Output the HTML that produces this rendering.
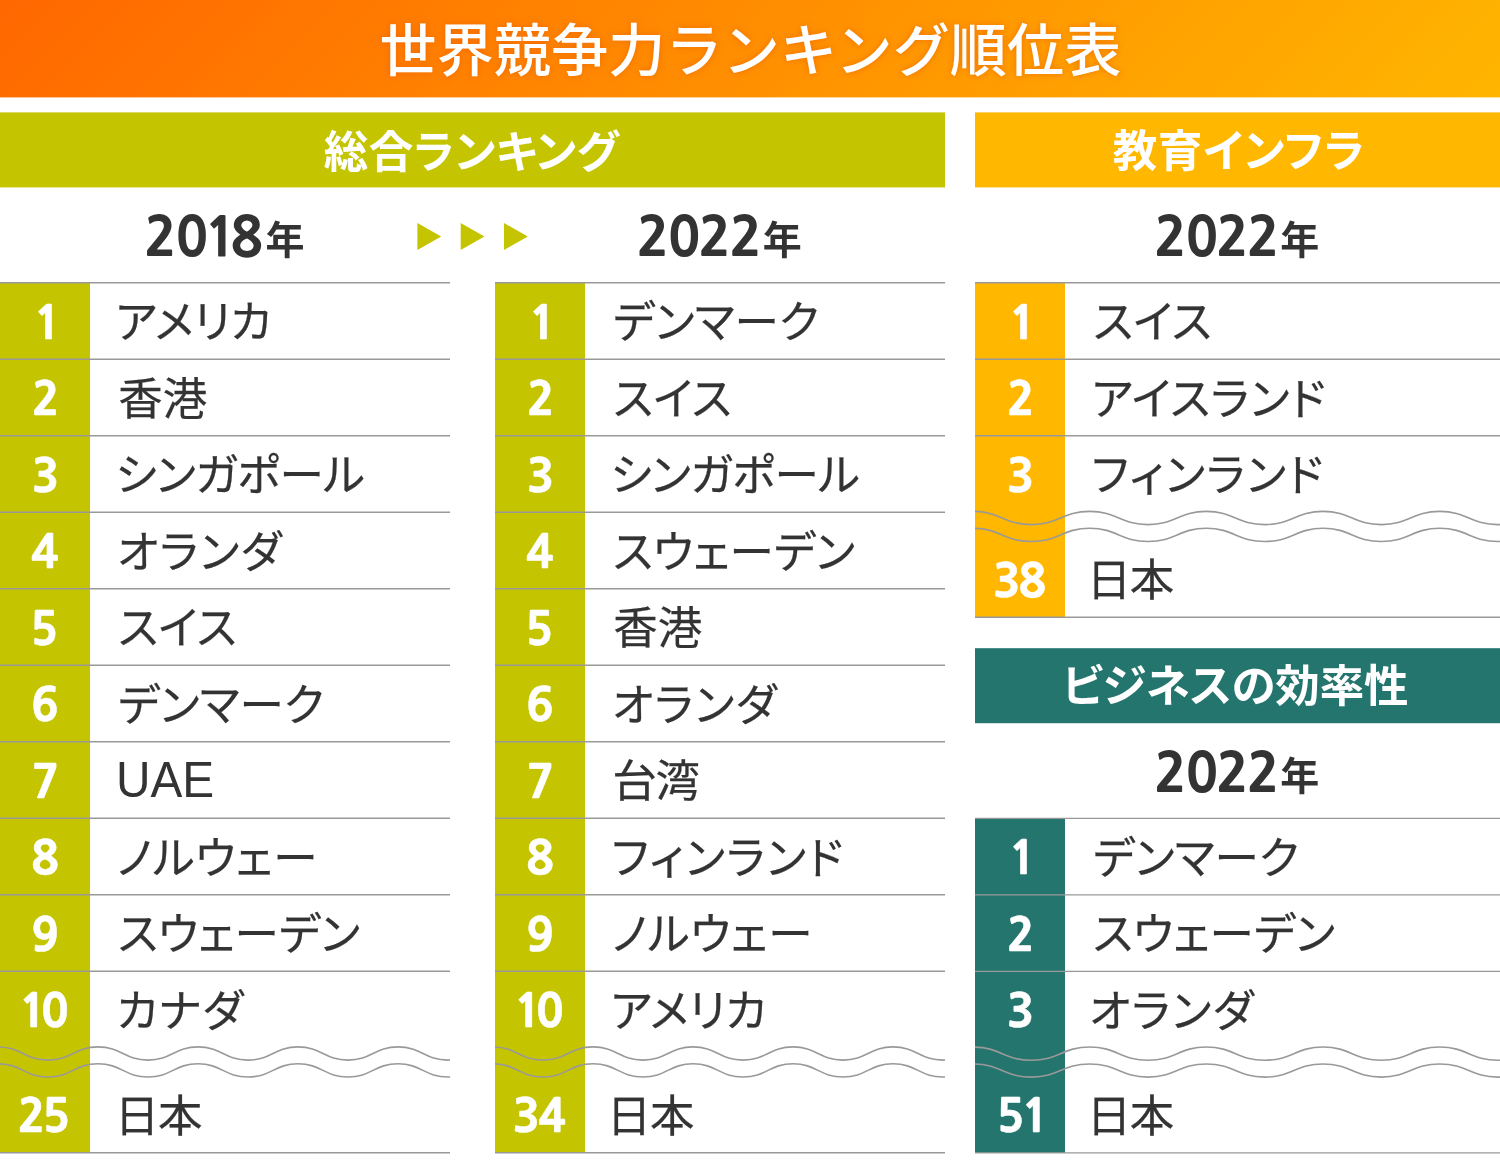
<!DOCTYPE html>
<html lang="ja"><head><meta charset="utf-8"><title>世界競争力ランキング順位表</title><style>
*{margin:0;padding:0;box-sizing:border-box}
html,body{width:1500px;height:1170px;background:#fff;overflow:hidden}
body{position:relative;font-family:"Liberation Sans","Noto Sans CJK JP",sans-serif;color:#333}
#g{position:absolute;left:0;top:0}
.ln{fill:none;stroke:#999;stroke-width:1.4}
.wv{fill:none;stroke:#999;stroke-width:1.6}
.hdr{position:absolute;left:0;top:0;width:1500px;height:97px;text-align:center;color:#fff;font-family:"Liberation Sans","Noto Sans CJK JP",sans-serif;font-weight:500;font-size:57px;line-height:97px;text-shadow:0 0 6px rgba(230,90,0,.6);white-space:nowrap}
.hdr span{position:relative;top:2.9px;left:.5px;letter-spacing:.2px}
.sec{position:absolute;height:75px;text-align:center;color:#fff;font-family:"Liberation Sans","Noto Sans CJK JP",sans-serif;font-weight:700;font-size:44.5px;font-feature-settings:"palt";line-height:75px;white-space:nowrap}
.sec span{position:relative;top:2.8px;left:-1px}
.yr{position:absolute;left:0;width:1500px;height:95px;line-height:95px;white-space:nowrap}
.yr .d{position:absolute;top:3.2px;font-family:"NanumGothic","Liberation Sans",sans-serif;font-weight:800;font-size:53.5px;letter-spacing:-1.5px}
.yr .d i{font-style:normal;margin-right:-5px;margin-left:-1.6px}
.yr .k{position:absolute;top:5.95px;font-family:"Liberation Sans","Noto Sans CJK JP",sans-serif;font-weight:700;font-size:39px}
.num{position:absolute;height:76.5px;line-height:76.5px;white-space:nowrap;color:#fff;font-family:"NanumGothic","Liberation Sans",sans-serif;font-weight:800;font-size:45.5px;-webkit-text-stroke:.5px #fff}
.nm{position:absolute;height:76.5px;line-height:76.5px;padding-top:2px;font-family:"Liberation Sans","Noto Sans CJK JP",sans-serif;font-size:44.5px;font-feature-settings:"palt";white-space:nowrap;color:#333;-webkit-text-stroke:.25px #333}
.nm .la{display:inline-block;font-size:50.2px;transform:scaleX(.952);transform-origin:0 50%;position:relative;top:-1.7px;-webkit-text-stroke:0}
</style></head><body>
<svg id="g" width="1500" height="1170" viewBox="0 0 1500 1170">
<defs><linearGradient id="hg" gradientUnits="userSpaceOnUse" x1="350.6" y1="-350.7" x2="1149.4" y2="448.1"><stop offset="0" stop-color="#ff6700"/><stop offset="1" stop-color="#ffb600"/></linearGradient></defs>
<rect x="0" y="0" width="1500" height="97.4" fill="url(#hg)"/>
<rect x="0" y="112.4" width="945" height="75" fill="#c5c400"/>
<rect x="975" y="112.4" width="525" height="75" fill="#ffb700"/>
<rect x="975" y="648.2" width="525" height="75" fill="#24756d"/>
<polygon points="417.4,223 441.2,236.5 417.4,250" fill="#c5c400"/>
<polygon points="460.7,223 484.5,236.5 460.7,250" fill="#c5c400"/>
<polygon points="504,223 527.8,236.5 504,250" fill="#c5c400"/>
<rect x="0" y="282.70" width="90" height="870.00" fill="#c5c400"/>
<path class="ln" d="M0,282.70h450M0,359.20h450M0,435.70h450M0,512.20h450M0,588.70h450M0,665.20h450M0,741.70h450M0,818.20h450M0,894.70h450M0,971.20h450M0,1152.70h450"/>
<svg x="0" y="1041.70" width="450" height="42" viewBox="0 1041.70 450 42"><path class="wv" d="M-2,1046.90C21.5,1046.90 24.5,1060.10 48.0,1060.10C71.5,1060.10 74.5,1046.90 98.0,1046.90C121.5,1046.90 124.5,1060.10 148.0,1060.10C171.5,1060.10 174.5,1046.90 198.0,1046.90C221.5,1046.90 224.5,1060.10 248.0,1060.10C271.5,1060.10 274.5,1046.90 298.0,1046.90C321.5,1046.90 324.5,1060.10 348.0,1060.10C371.5,1060.10 374.5,1046.90 398.0,1046.90C421.5,1046.90 424.5,1060.10 448.0,1060.10C471.5,1060.10 474.5,1046.90 498.0,1046.90"/><path class="wv" d="M-2,1063.80C21.5,1063.80 24.5,1077.00 48.0,1077.00C71.5,1077.00 74.5,1063.80 98.0,1063.80C121.5,1063.80 124.5,1077.00 148.0,1077.00C171.5,1077.00 174.5,1063.80 198.0,1063.80C221.5,1063.80 224.5,1077.00 248.0,1077.00C271.5,1077.00 274.5,1063.80 298.0,1063.80C321.5,1063.80 324.5,1077.00 348.0,1077.00C371.5,1077.00 374.5,1063.80 398.0,1063.80C421.5,1063.80 424.5,1077.00 448.0,1077.00C471.5,1077.00 474.5,1063.80 498.0,1063.80"/></svg>
<rect x="495" y="282.70" width="90" height="870.00" fill="#c5c400"/>
<path class="ln" d="M495,282.70h450M495,359.20h450M495,435.70h450M495,512.20h450M495,588.70h450M495,665.20h450M495,741.70h450M495,818.20h450M495,894.70h450M495,971.20h450M495,1152.70h450"/>
<svg x="495" y="1041.70" width="450" height="42" viewBox="495 1041.70 450 42"><path class="wv" d="M493,1046.90C516.5,1046.90 519.5,1060.10 543.0,1060.10C566.5,1060.10 569.5,1046.90 593.0,1046.90C616.5,1046.90 619.5,1060.10 643.0,1060.10C666.5,1060.10 669.5,1046.90 693.0,1046.90C716.5,1046.90 719.5,1060.10 743.0,1060.10C766.5,1060.10 769.5,1046.90 793.0,1046.90C816.5,1046.90 819.5,1060.10 843.0,1060.10C866.5,1060.10 869.5,1046.90 893.0,1046.90C916.5,1046.90 919.5,1060.10 943.0,1060.10C966.5,1060.10 969.5,1046.90 993.0,1046.90"/><path class="wv" d="M493,1063.80C516.5,1063.80 519.5,1077.00 543.0,1077.00C566.5,1077.00 569.5,1063.80 593.0,1063.80C616.5,1063.80 619.5,1077.00 643.0,1077.00C666.5,1077.00 669.5,1063.80 693.0,1063.80C716.5,1063.80 719.5,1077.00 743.0,1077.00C766.5,1077.00 769.5,1063.80 793.0,1063.80C816.5,1063.80 819.5,1077.00 843.0,1077.00C866.5,1077.00 869.5,1063.80 893.0,1063.80C916.5,1063.80 919.5,1077.00 943.0,1077.00C966.5,1077.00 969.5,1063.80 993.0,1063.80"/></svg>
<rect x="975" y="282.70" width="90" height="334.50" fill="#ffb700"/>
<path class="ln" d="M975,282.70h525M975,359.20h525M975,435.70h525M975,617.20h525"/>
<svg x="975" y="506.20" width="525" height="42" viewBox="975 506.20 525 42"><path class="wv" d="M973,511.40C1000.4,511.40 1003.9,524.60 1031.3,524.60C1058.8,524.60 1062.2,511.40 1089.7,511.40C1117.1,511.40 1120.6,524.60 1148.0,524.60C1175.4,524.60 1178.9,511.40 1206.3,511.40C1233.8,511.40 1237.2,524.60 1264.7,524.60C1292.1,524.60 1295.6,511.40 1323.0,511.40C1350.4,511.40 1353.9,524.60 1381.3,524.60C1408.8,524.60 1412.2,511.40 1439.7,511.40C1467.1,511.40 1470.6,524.60 1498.0,524.60C1525.4,524.60 1528.9,511.40 1556.3,511.40"/><path class="wv" d="M973,528.30C1000.4,528.30 1003.9,541.50 1031.3,541.50C1058.8,541.50 1062.2,528.30 1089.7,528.30C1117.1,528.30 1120.6,541.50 1148.0,541.50C1175.4,541.50 1178.9,528.30 1206.3,528.30C1233.8,528.30 1237.2,541.50 1264.7,541.50C1292.1,541.50 1295.6,528.30 1323.0,528.30C1350.4,528.30 1353.9,541.50 1381.3,541.50C1408.8,541.50 1412.2,528.30 1439.7,528.30C1467.1,528.30 1470.6,541.50 1498.0,541.50C1525.4,541.50 1528.9,528.30 1556.3,528.30"/></svg>
<rect x="975" y="818.35" width="90" height="334.50" fill="#24756d"/>
<path class="ln" d="M975,818.35h525M975,894.85h525M975,971.35h525M975,1152.85h525"/>
<svg x="975" y="1041.85" width="525" height="42" viewBox="975 1041.85 525 42"><path class="wv" d="M973,1047.05C1000.4,1047.05 1003.9,1060.25 1031.3,1060.25C1058.8,1060.25 1062.2,1047.05 1089.7,1047.05C1117.1,1047.05 1120.6,1060.25 1148.0,1060.25C1175.4,1060.25 1178.9,1047.05 1206.3,1047.05C1233.8,1047.05 1237.2,1060.25 1264.7,1060.25C1292.1,1060.25 1295.6,1047.05 1323.0,1047.05C1350.4,1047.05 1353.9,1060.25 1381.3,1060.25C1408.8,1060.25 1412.2,1047.05 1439.7,1047.05C1467.1,1047.05 1470.6,1060.25 1498.0,1060.25C1525.4,1060.25 1528.9,1047.05 1556.3,1047.05"/><path class="wv" d="M973,1063.95C1000.4,1063.95 1003.9,1077.15 1031.3,1077.15C1058.8,1077.15 1062.2,1063.95 1089.7,1063.95C1117.1,1063.95 1120.6,1077.15 1148.0,1077.15C1175.4,1077.15 1178.9,1063.95 1206.3,1063.95C1233.8,1063.95 1237.2,1077.15 1264.7,1077.15C1292.1,1077.15 1295.6,1063.95 1323.0,1063.95C1350.4,1063.95 1353.9,1077.15 1381.3,1077.15C1408.8,1077.15 1412.2,1063.95 1439.7,1063.95C1467.1,1063.95 1470.6,1077.15 1498.0,1077.15C1525.4,1077.15 1528.9,1063.95 1556.3,1063.95"/></svg>
</svg>
<div class="hdr"><span>世界競争力ランキング順位表</span></div>
<div class="sec" style="left:0;top:112px;width:945px"><span style="letter-spacing:.4px">総合ランキング</span></div>
<div class="sec" style="left:975px;top:112px;width:525px"><span style="letter-spacing:.8px;top:1.5px;left:1.5px">教育インフラ</span></div>
<div class="sec" style="left:975px;top:648px;width:525px"><span style="letter-spacing:-.17px;top:1.4px;left:-2.3px">ビジネスの効率性</span></div>
<div class="yr" style="top:187px"><span class="d" style="left:144.3px">20<i>1</i>8</span><span class="k" style="left:265.4px">年</span></div>
<div class="yr" style="top:187px"><span class="d" style="left:636.7px">2022</span><span class="k" style="left:762.7px">年</span></div>
<div class="yr" style="top:187px"><span class="d" style="left:1154.3px">2022</span><span class="k" style="left:1280.3px">年</span></div>
<div class="yr" style="top:722.6px"><span class="d" style="left:1154.3px">2022</span><span class="k" style="left:1280.3px">年</span></div>
<div class="num" style="left:33.8px;top:284.75px">1</div><div class="nm" style="left:115.6px;top:283.00px;letter-spacing:0.1px">アメリカ</div>
<div class="num" style="left:32.0px;top:361.25px">2</div><div class="nm" style="left:118.2px;top:359.50px">香港</div>
<div class="num" style="left:31.8px;top:437.75px">3</div><div class="nm" style="left:115.6px;top:436.00px;letter-spacing:-0.5px">シンガポール</div>
<div class="num" style="left:31.0px;top:514.25px">4</div><div class="nm" style="left:117.2px;top:512.50px;letter-spacing:1.6px">オランダ</div>
<div class="num" style="left:30.2px;top:590.75px">5</div><div class="nm" style="left:118.2px;top:589.00px;letter-spacing:0.3px">スイス</div>
<div class="num" style="left:31.0px;top:667.25px">6</div><div class="nm" style="left:118.2px;top:665.50px;letter-spacing:0.25px">デンマーク</div>
<div class="num" style="left:31.8px;top:743.75px">7</div><div class="nm" style="left:116.3px;top:742.00px"><span class="la">UAE</span></div>
<div class="num" style="left:31.2px;top:820.25px">8</div><div class="nm" style="left:117.0px;top:818.50px;letter-spacing:0.8px">ノルウェー</div>
<div class="num" style="left:31.2px;top:896.75px">9</div><div class="nm" style="left:118.0px;top:895.00px;letter-spacing:0.1px">スウェーデン</div>
<div class="num" style="left:18.9px;top:973.25px;letter-spacing:-5.8px">10</div><div class="nm" style="left:116.5px;top:971.50px;letter-spacing:1.25px">カナダ</div>
<div class="num" style="left:17.7px;top:1078.25px;letter-spacing:-3.08px">25</div><div class="nm" style="left:114.8px;top:1076.50px;letter-spacing:-1.4px">日本</div>
<div class="num" style="left:528.8px;top:284.75px">1</div><div class="nm" style="left:613.2px;top:283.00px;letter-spacing:0.25px">デンマーク</div>
<div class="num" style="left:527.0px;top:361.25px">2</div><div class="nm" style="left:613.2px;top:359.50px;letter-spacing:0.3px">スイス</div>
<div class="num" style="left:526.8px;top:437.75px">3</div><div class="nm" style="left:610.6px;top:436.00px;letter-spacing:-0.5px">シンガポール</div>
<div class="num" style="left:526.0px;top:514.25px">4</div><div class="nm" style="left:613.0px;top:512.50px;letter-spacing:0.1px">スウェーデン</div>
<div class="num" style="left:525.2px;top:590.75px">5</div><div class="nm" style="left:613.2px;top:589.00px">香港</div>
<div class="num" style="left:526.0px;top:667.25px">6</div><div class="nm" style="left:612.2px;top:665.50px;letter-spacing:1.6px">オランダ</div>
<div class="num" style="left:526.8px;top:743.75px">7</div><div class="nm" style="left:612.2px;top:742.00px;letter-spacing:-1.2px">台湾</div>
<div class="num" style="left:526.2px;top:820.25px">8</div><div class="nm" style="left:611.6px;top:818.50px;letter-spacing:1.6px">フィンランド</div>
<div class="num" style="left:526.2px;top:896.75px">9</div><div class="nm" style="left:612.0px;top:895.00px;letter-spacing:0.8px">ノルウェー</div>
<div class="num" style="left:513.9px;top:973.25px;letter-spacing:-5.8px">10</div><div class="nm" style="left:610.6px;top:971.50px;letter-spacing:0.1px">アメリカ</div>
<div class="num" style="left:512.5px;top:1078.25px;letter-spacing:-1.88px">34</div><div class="nm" style="left:606.8px;top:1076.50px;letter-spacing:-1.4px">日本</div>
<div class="num" style="left:1008.8px;top:284.75px">1</div><div class="nm" style="left:1093.2px;top:283.00px;letter-spacing:0.3px">スイス</div>
<div class="num" style="left:1007.0px;top:361.25px">2</div><div class="nm" style="left:1091.7px;top:359.50px;letter-spacing:0.7px">アイスランド</div>
<div class="num" style="left:1006.8px;top:437.75px">3</div><div class="nm" style="left:1091.6px;top:436.00px;letter-spacing:1.6px">フィンランド</div>
<div class="num" style="left:993.1px;top:542.75px;letter-spacing:-2.28px">38</div><div class="nm" style="left:1086.7px;top:541.00px;letter-spacing:-1.4px">日本</div>
<div class="num" style="left:1008.8px;top:820.40px">1</div><div class="nm" style="left:1093.2px;top:818.65px;letter-spacing:0.25px">デンマーク</div>
<div class="num" style="left:1007.0px;top:896.90px">2</div><div class="nm" style="left:1093.0px;top:895.15px;letter-spacing:0.1px">スウェーデン</div>
<div class="num" style="left:1006.8px;top:973.40px">3</div><div class="nm" style="left:1089.2px;top:971.65px;letter-spacing:1.6px">オランダ</div>
<div class="num" style="left:996.5px;top:1078.40px;letter-spacing:-2.58px">51</div><div class="nm" style="left:1086.7px;top:1076.65px;letter-spacing:-1.4px">日本</div>
</body></html>
